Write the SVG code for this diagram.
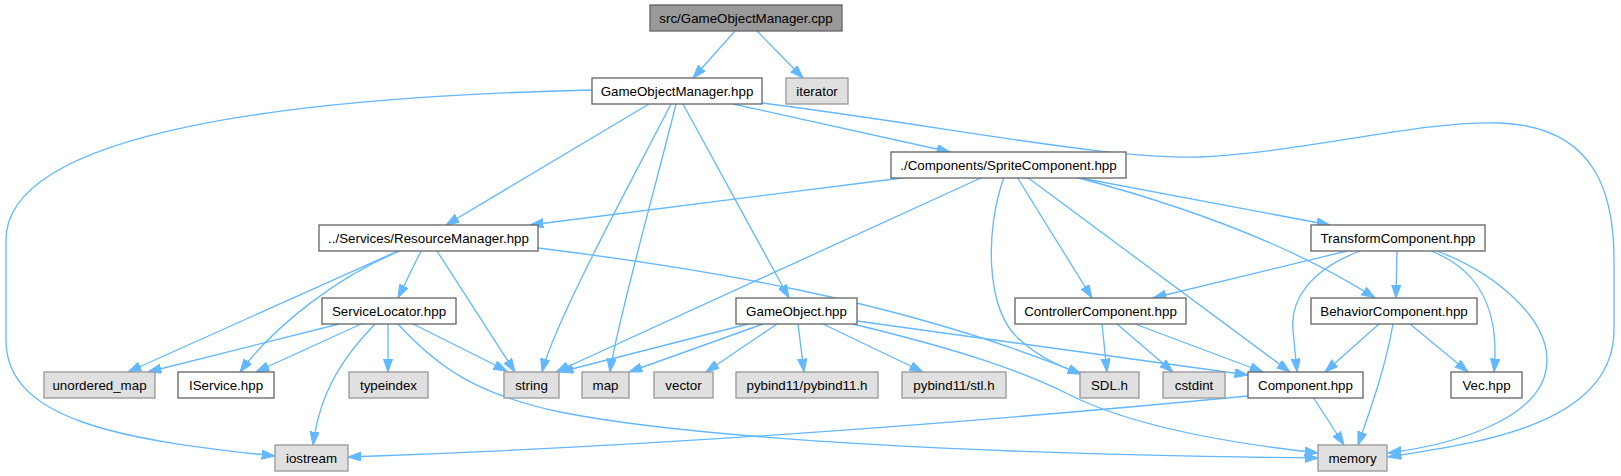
<svg xmlns="http://www.w3.org/2000/svg" width="1621" height="476" viewBox="0 0 1621 476">
<style>
.bg{fill:#ffffff}
.n rect{fill:#ffffff;stroke:#666666;stroke-width:1.33}
.x rect{fill:#e0e0e0;stroke:#999999;stroke-width:1.33}
.r rect{fill:#999999;stroke:#666666;stroke-width:1.33}
text{font-family:"Liberation Sans",Arial,Helvetica,sans-serif;font-size:13.33px;fill:#000000;text-anchor:middle}
#edges path{fill:none;stroke:#63b8ff;stroke-width:1.33;marker-end:url(#arr)}
</style>
<defs>
<marker id="arr" markerUnits="userSpaceOnUse" markerWidth="14" markerHeight="10" refX="13.3" refY="4.67" orient="auto" viewBox="0 0 14 10">
<path d="M0,0 L13.3,4.67 L0,9.33 Z" fill="#63b8ff" stroke="#63b8ff" stroke-width="1"/>
</marker>
</defs>
<rect class="bg" x="0" y="0" width="1621" height="476"/>
<g id="edges">
<path d="M735,31 L693,78"/>
<path d="M757,31 L803,78"/>
<path d="M592,90 C300,97 6,130 6,240 L6,340 C6,420 120,440 275,456"/>
<path d="M649,104 L446,225"/>
<path d="M671,104 C640,165 555,320 542,372"/>
<path d="M676,104 C660,170 615,330 610,372"/>
<path d="M683,104 L789,298"/>
<path d="M733,104 L950,152"/>
<path d="M762,103 C950,127 1110,160 1200,157 C1300,153 1420,120 1500,123 C1600,127 1614,200 1614,260 L1614,330 C1614,430 1460,445 1388,457"/>
<path d="M910,177 L530,225"/>
<path d="M983,177 L556,372"/>
<path d="M1004,177 C985,230 985,310 1020,340 C1040,358 1060,366 1081,374"/>
<path d="M1017,177 L1092,298"/>
<path d="M1027,177 L1290,372"/>
<path d="M1075,177 C1200,210 1300,250 1375,298"/>
<path d="M1075,177 L1330,225"/>
<path d="M398,251 L128,372"/>
<path d="M400,251 C340,275 275,325 240,372"/>
<path d="M421,251 L398,298"/>
<path d="M437,251 L515,372"/>
<path d="M538,248 C700,268 900,300 1081,374"/>
<path d="M339,324 L148,372"/>
<path d="M361,324 L256,372"/>
<path d="M388,324 L388,372"/>
<path d="M375,324 C345,355 320,390 313,445"/>
<path d="M413,324 L507,371"/>
<path d="M398,324 C440,370 480,395 560,412 C700,440 1000,455 1318,458"/>
<path d="M748,324 L560,372"/>
<path d="M763,324 L629,372"/>
<path d="M777,324 L706,372"/>
<path d="M798,324 L804,372"/>
<path d="M823,324 L923,372"/>
<path d="M857,321 L1248,375"/>
<path d="M853,324 C960,350 1020,370 1070,395 C1120,420 1200,440 1318,453"/>
<path d="M1347,251 L1153,298"/>
<path d="M1397,251 L1396,298"/>
<path d="M1360,251 C1310,270 1290,300 1293,330 L1297,372"/>
<path d="M1431,251 C1480,270 1500,310 1494,372"/>
<path d="M1437,251 C1500,275 1547,320 1547,360 C1547,420 1450,445 1388,453"/>
<path d="M1102,324 L1107,372"/>
<path d="M1117,324 L1173,372"/>
<path d="M1135,324 L1263,372"/>
<path d="M1379,324 L1325,372"/>
<path d="M1410,324 L1468,372"/>
<path d="M1393,324 C1385,370 1370,410 1358,445"/>
<path d="M1248,396 C1050,415 700,445 348,457"/>
<path d="M1313,397 L1344,445"/>
</g>
<g id="node-root" class="r"><rect x="650" y="5" width="192" height="26"/><text x="746" y="22.5">src/GameObjectManager.cpp</text></g>
<g id="node-gom" class="n"><rect x="592" y="78" width="170" height="26"/><text x="677" y="95.5">GameObjectManager.hpp</text></g>
<g id="node-iterator" class="x"><rect x="786" y="78" width="62" height="26"/><text x="817" y="95.5">iterator</text></g>
<g id="node-sprite" class="n"><rect x="891" y="152" width="235" height="26"/><text x="1008.5" y="169.5">./Components/SpriteComponent.hpp</text></g>
<g id="node-resource" class="n"><rect x="319" y="225" width="219" height="26"/><text x="428.5" y="242.5">../Services/ResourceManager.hpp</text></g>
<g id="node-transform" class="n"><rect x="1311" y="225" width="174" height="26"/><text x="1398" y="242.5">TransformComponent.hpp</text></g>
<g id="node-servicelocator" class="n"><rect x="322" y="298" width="134" height="26"/><text x="389" y="315.5">ServiceLocator.hpp</text></g>
<g id="node-gameobject" class="n"><rect x="736" y="298" width="121" height="26"/><text x="796.5" y="315.5">GameObject.hpp</text></g>
<g id="node-controller" class="n"><rect x="1015" y="298" width="171" height="26"/><text x="1100.5" y="315.5">ControllerComponent.hpp</text></g>
<g id="node-behavior" class="n"><rect x="1311" y="298" width="166" height="26"/><text x="1394" y="315.5">BehaviorComponent.hpp</text></g>
<g id="node-unordered_map" class="x"><rect x="44" y="372" width="111" height="26"/><text x="99.5" y="389.5">unordered_map</text></g>
<g id="node-iservice" class="n"><rect x="178" y="372" width="96" height="26"/><text x="226" y="389.5">IService.hpp</text></g>
<g id="node-typeindex" class="x"><rect x="349" y="372" width="79" height="26"/><text x="388.5" y="389.5">typeindex</text></g>
<g id="node-string" class="x"><rect x="504" y="372" width="55" height="26"/><text x="531.5" y="389.5">string</text></g>
<g id="node-map" class="x"><rect x="582" y="372" width="47" height="26"/><text x="605.5" y="389.5">map</text></g>
<g id="node-vector" class="x"><rect x="654" y="372" width="59" height="26"/><text x="683.5" y="389.5">vector</text></g>
<g id="node-pybind11" class="x"><rect x="736" y="372" width="142" height="26"/><text x="807" y="389.5">pybind11/pybind11.h</text></g>
<g id="node-stl" class="x"><rect x="902" y="372" width="104" height="26"/><text x="954" y="389.5">pybind11/stl.h</text></g>
<g id="node-sdl" class="x"><rect x="1080" y="372" width="59" height="26"/><text x="1109.5" y="389.5">SDL.h</text></g>
<g id="node-cstdint" class="x"><rect x="1163" y="372" width="62" height="26"/><text x="1194" y="389.5">cstdint</text></g>
<g id="node-component" class="n"><rect x="1248" y="372" width="115" height="26"/><text x="1305.5" y="389.5">Component.hpp</text></g>
<g id="node-vec" class="n"><rect x="1451" y="372" width="71" height="26"/><text x="1486.5" y="389.5">Vec.hpp</text></g>
<g id="node-iostream" class="x"><rect x="275" y="445" width="73" height="26"/><text x="311.5" y="462.5">iostream</text></g>
<g id="node-memory" class="x"><rect x="1318" y="445" width="69" height="26"/><text x="1352.5" y="462.5">memory</text></g>
</svg>
